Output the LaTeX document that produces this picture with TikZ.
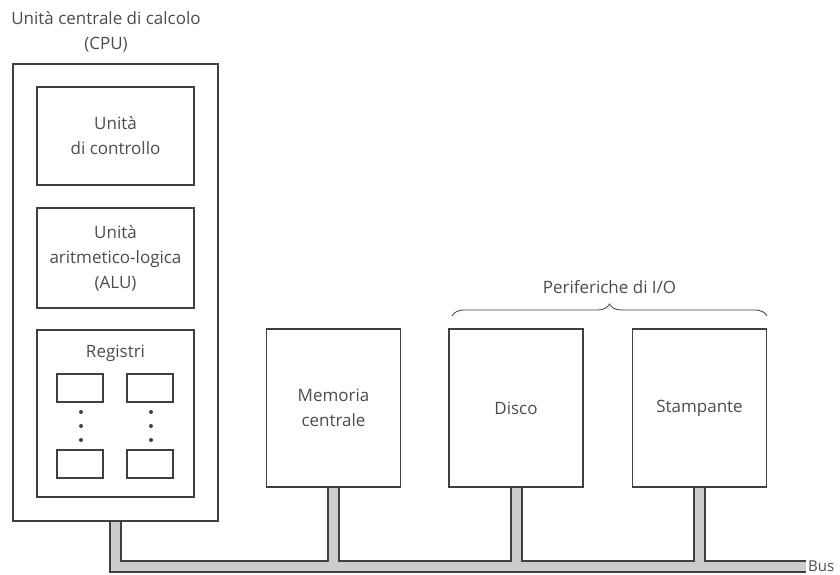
\documentclass[tikz,border=0pt]{standalone}
\usepackage{fontspec}
\setmainfont{Open Sans}
\usetikzlibrary{positioning,backgrounds,decorations.pathreplacing}

\definecolor{linegray}{gray}{0.25}
\definecolor{busgray}{gray}{0.8}
\definecolor{textgray}{gray}{0.3}

\begin{document}
\begin{tikzpicture}[x = 1pt, y = -1pt, font = \fontsize{17}{25}\selectfont, text = textgray]
    \tikzset{
      unit/.style = {draw = linegray, line width = 1.6pt, align = center, inner sep = 0pt},
      device/.style = {unit, minimum width = 134pt, minimum height = 158pt},
      part/.style = {unit, minimum width = 157pt},
      register/.style = {draw = linegray, line width = 1.4pt, minimum width = 46pt, minimum height = 28pt},
      regdot/.style = {circle, fill = linegray, inner sep = 0pt, minimum size = 4pt},
    }
    \useasboundingbox (0, 0) rectangle (840, 574);

    % CPU and its parts
    \node [unit, minimum width = 205pt, minimum height = 457pt] (cpu) at (115.5, 292.5) {};
    \node [align = center, anchor = south] (cputitle) at (106, 56) {Unità centrale di calcolo\\(CPU)};
    \node [part, minimum height = 98pt] (ctrl) at (115.5, 136) {Unità\\di controllo};
    \node [part, minimum height = 100pt] (alu) at (115.5, 258) {Unità\\aritmetico-logica\\(ALU)};
    \node [part, minimum height = 167pt] (reg) at (115.5, 413.5) {};
    \node [below = 12pt of reg.north] (regtitle) {Registri};

    \node [register] (r0) at (80, 388) {};
    \node [register] (r1) at (150, 388) {};
    \node [register] (r2) at (80, 464) {};
    \node [register] (r3) at (150, 464) {};
    \foreach \x/\c in {81/0, 151/1}
      \foreach \y/\k in {412/a, 426/b, 440/c}
        \node [regdot] (d\c\k) at (\x, \y) {};

    % memory and peripherals
    \node [device] (mem) at (333.5, 408) {Memoria\\centrale};
    \node [device] (disk) at (516, 408) {Disco};
    \node [device] (prn) at (699.5, 408) {Stampante};

    \coordinate (braceleft) at (452, 316);
    \coordinate (braceright) at (767, 316);
    \draw [draw = linegray, line width = 0.8pt, decorate, decoration = {brace, amplitude = 12pt}]
      (braceleft) -- (braceright);
    \node (io) at (609.5, 287) {Periferiche di I/O};

    % bus
    \coordinate (busend) at (806, 566);
    \node [anchor = base west, inner sep = 2pt, font = \fontsize{15}{18}\selectfont] (buslabel)
      at ([yshift = -5.5pt] busend) {Bus};
    \begin{scope}[on background layer]
      \foreach \w/\c in {13pt/linegray, 9pt/busgray} {
        \draw [line width = \w, draw = \c, line join = miter] (cpu.south) |- (busend);
        \draw [line width = \w, draw = \c] (mem.south) -- (mem.south |- busend);
        \draw [line width = \w, draw = \c] (disk.south) -- (disk.south |- busend);
        \draw [line width = \w, draw = \c] (prn.south) -- (prn.south |- busend);
      }
    \end{scope}
  \end{tikzpicture}
\end{document}
